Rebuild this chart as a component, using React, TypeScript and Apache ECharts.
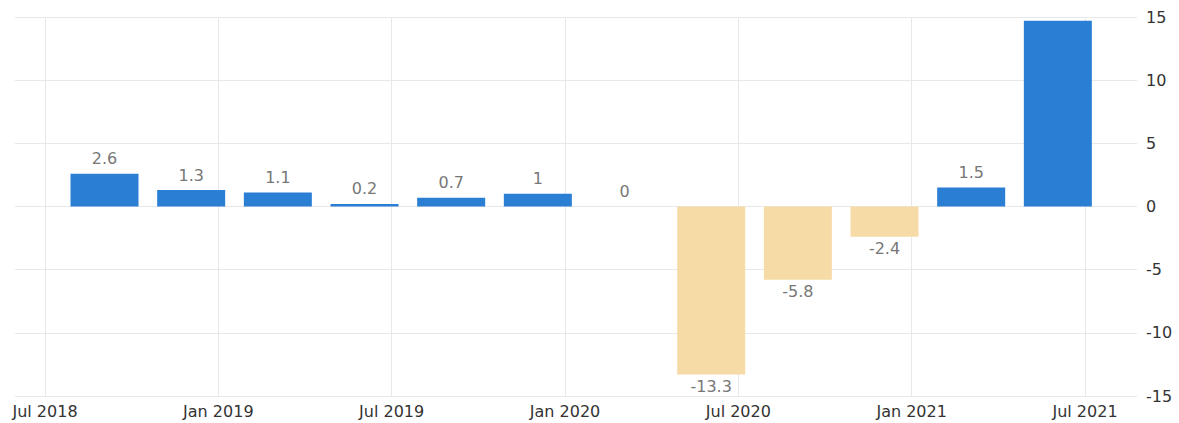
import React, { useEffect, useRef } from "react";
import * as echarts from "echarts";

// Quarter (month of the bar) and GDP growth values
const quarters = [
  "2018-09", "2018-12", "2019-03", "2019-06", "2019-09", "2019-12",
  "2020-03", "2020-06", "2020-09", "2020-12", "2021-03", "2021-06",
];
const values = [2.6, 1.3, 1.1, 0.2, 0.7, 1, 0, -13.3, -5.8, -2.4, 1.5, 14.7];
const showLabel = [true, true, true, true, true, true, true, true, true, true, true, false];
const xTickLabels = ["Jul 2018", "Jan 2019", "Jul 2019", "Jan 2020", "Jul 2020", "Jan 2021", "Jul 2021"];
const yTicks = { min: -15, max: 15, interval: 5 };

const BLUE = "#2a7fd4";
const ORANGE = "#f6dba6";
const FONT = "DejaVu Sans";

// months since Jul 2018
const monthOffset = (q: string) => {
  const [y, m] = q.split("-").map(Number);
  return (y - 2018) * 12 + (m - 7);
};

export default function App() {
  const ref = useRef<HTMLDivElement>(null);
  useEffect(() => {
    if (!ref.current) return;
    const chart = echarts.init(ref.current, undefined, { renderer: "svg" });

    // grid 0: full-width plot (horizontal gridlines), grid 1: Jul 2018..Jul 2021 (vertical gridlines + labels)
    const g0Left = 15, g0Width = 1122, top = 17, height = 379;
    const g1Left = 45, g1Width = 1040;
    const pxPerMonth = g1Width / 36;
    const x0Min = -(g1Left - g0Left) / pxPerMonth;
    const x0Max = 36 + (g0Left + g0Width - (g1Left + g1Width)) / pxPerMonth;

    const data = values.map((v, i) => ({
      value: [monthOffset(quarters[i]) + 0.06, v],
      itemStyle: { color: v >= 0 ? BLUE : ORANGE },
      label: {
        show: showLabel[i],
        position: v < 0 ? "bottom" : "top",
        distance: v < 0 ? 4 : 7,
      },
    }));

    chart.setOption({
      animation: false,
      backgroundColor: "#ffffff",
      grid: [
        { left: g0Left, top, width: g0Width, height },
        { left: g1Left, top, width: g1Width, height },
      ],
      xAxis: [
        { type: "value", gridIndex: 0, min: x0Min, max: x0Max, show: false },
        {
          type: "value",
          gridIndex: 1,
          min: 0,
          max: 36,
          interval: 6,
          axisLine: { show: false },
          axisTick: { show: false },
          splitLine: { show: true, lineStyle: { color: "#e8e8e8", width: 1 } },
          axisLabel: {
            margin: 7,
            fontFamily: FONT,
            fontSize: 16,
            color: "#333",
            formatter: (v: number) => xTickLabels[Math.round(v / 6)] ?? "",
          },
        },
      ],
      yAxis: [
        {
          type: "value",
          gridIndex: 0,
          position: "right",
          min: yTicks.min,
          max: yTicks.max,
          interval: yTicks.interval,
          axisLine: { show: false },
          axisTick: { show: false },
          splitLine: { show: true, lineStyle: { color: "#e8e8e8", width: 1 } },
          axisLabel: {
            margin: 9,
            align: "left",
            fontFamily: FONT,
            fontSize: 16,
            color: "#333",
          },
        },
        {
          type: "value",
          gridIndex: 1,
          min: yTicks.min,
          max: yTicks.max,
          show: false,
          splitLine: { show: false },
        },
      ],
      series: [
        {
          type: "bar",
          xAxisIndex: 0,
          yAxisIndex: 0,
          barWidth: 68,
          data,
          label: {
            show: true,
            fontFamily: FONT,
            fontSize: 16,
            color: "#777",
            formatter: (p: any) => String(p.value[1]),
          },
        },
      ],
    });
    return () => chart.dispose();
  }, []);

  return (
    <div
      ref={ref}
      style={{ position: "fixed", left: 0, top: 0, width: 1179, height: 423, background: "#fff" }}
    />
  );
}
